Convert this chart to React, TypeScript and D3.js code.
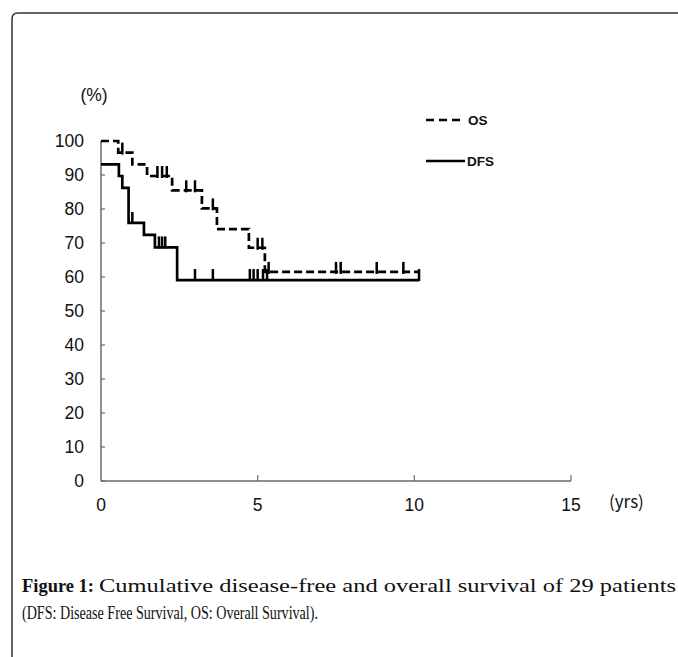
import React from "react";
import * as d3 from "d3";

const yTicks = [0, 10, 20, 30, 40, 50, 60, 70, 80, 90, 100];
const xTicks = [0, 5, 10, 15];

// Overall survival (dashed): step times (yrs) and survival (%) after each step
const osTimes = [0, 0.55, 1.0, 1.47, 2.27, 3.22, 3.7, 4.72, 5.23];
const osSurv = [100, 96.6, 93.1, 89.7, 85.5, 80.2, 74.1, 68.6, 61.5];
const osCensorT = [0.68, 1.8, 1.95, 2.1, 2.72, 3.0, 3.57, 5.0, 5.15, 5.35, 7.5, 7.65, 8.8, 9.65];
const osEnd = 10.15;

// Disease-free survival (solid)
const dfsTimes = [0, 0.57, 0.68, 0.88, 1.37, 1.72, 2.43];
const dfsSurv = [93.1, 89.7, 86.2, 75.9, 72.4, 68.7, 59.1];
const dfsCensorT = [1.0, 1.85, 1.95, 2.05, 3.0, 3.57, 4.75, 4.87, 5.0, 5.17, 5.3, 10.15];
const dfsEnd = 10.15;

const legendLabels = ["OS", "DFS"];
const captionBold = "Figure 1:";
const captionRest = "Cumulative disease-free and overall survival of 29 patients";
const captionLine2 = "(DFS: Disease Free Survival, OS: Overall Survival).";

function levelAt(times: number[], surv: number[], t: number) {
  let v = surv[0];
  for (let i = 0; i < times.length; i++) if (times[i] <= t) v = surv[i];
  return v;
}

export default function App() {
  const x = d3.scaleLinear().domain([0, 15]).range([101, 571]);
  const y = d3.scaleLinear().domain([0, 100]).range([481, 141]);
  const line = d3
    .line<[number, number]>()
    .x((d) => x(d[0]))
    .y((d) => y(d[1]))
    .curve(d3.curveStepAfter);

  const osPts: [number, number][] = osTimes.map((t, i) => [t, osSurv[i]]);
  osPts.push([osEnd, osSurv[osSurv.length - 1]]);
  const dfsPts: [number, number][] = dfsTimes.map((t, i) => [t, dfsSurv[i]]);
  dfsPts.push([dfsEnd, dfsSurv[dfsSurv.length - 1]]);

  const axisColor = "#6a6a6a";
  const sans = "'Liberation Sans', Arial, sans-serif";
  const serif = "'Liberation Serif', 'Times New Roman', serif";

  return (
    <svg width={678} height={657} style={{ position: "absolute", left: 0, top: 0 }}>
      <rect x={0} y={0} width={678} height={657} fill="#fff" />
      {/* frame */}
      <path d="M12,700 L12,19 Q12,13 18,13 L700,13" fill="none" stroke="#333" strokeWidth={1.5} />

      {/* axes */}
      <line x1={x(0)} x2={x(0)} y1={y(0)} y2={y(100)} stroke={axisColor} strokeWidth={1.5} />
      <line x1={x(0)} x2={x(15)} y1={y(0)} y2={y(0)} stroke={axisColor} strokeWidth={1.5} />
      {yTicks.map((v) => (
        <g key={"y" + v}>
          <line x1={x(0)} x2={x(0) + 4} y1={y(v)} y2={y(v)} stroke={axisColor} strokeWidth={1.2} />
          <text x={84} y={y(v)} dy="0.35em" textAnchor="end" fontFamily={sans} fontSize={17.5} fill="#111">
            {v}
          </text>
        </g>
      ))}
      {xTicks.map((v) => (
        <g key={"x" + v}>
          {v > 0 && (
            <line x1={x(v)} x2={x(v)} y1={y(0)} y2={y(0) - 6} stroke={axisColor} strokeWidth={1.2} />
          )}
          <text x={x(v)} y={y(0) + 24} dy="0.35em" textAnchor="middle" fontFamily={sans} fontSize={17.5} fill="#111">
            {v}
          </text>
        </g>
      ))}
      <text x={94} y={95} dy="0.35em" textAnchor="middle" fontFamily={sans} fontSize={17.5} fill="#111">
        (%)
      </text>
      <text x={609} y={502} dy="0.35em" fontFamily="'Noto Sans CJK JP', sans-serif" fontSize={17} fill="#111">
        (yrs)
      </text>

      {/* curves */}
      <path d={line(osPts) || ""} fill="none" stroke="#000" strokeWidth={2.7} strokeDasharray="8,4" />
      <path d={line(dfsPts) || ""} fill="none" stroke="#000" strokeWidth={2.7} />
      {osCensorT.map((t, i) => {
        const v = levelAt(osTimes, osSurv, t);
        return <line key={"oc" + i} x1={x(t)} x2={x(t)} y1={y(v) - 10} y2={y(v) + 2} stroke="#000" strokeWidth={2.5} />;
      })}
      {dfsCensorT.map((t, i) => {
        const v = levelAt(dfsTimes, dfsSurv, t);
        return <line key={"dc" + i} x1={x(t)} x2={x(t)} y1={y(v) - 11} y2={y(v) + 1} stroke="#000" strokeWidth={2.5} />;
      })}

      {/* legend */}
      <line x1={426} x2={461} y1={120} y2={120} stroke="#000" strokeWidth={2.7} strokeDasharray="8,5" />
      <text x={468} y={120} dy="0.35em" fontFamily={sans} fontWeight="bold" fontSize={13.5} fill="#111">
        {legendLabels[0]}
      </text>
      <line x1={426} x2={465} y1={161} y2={161} stroke="#000" strokeWidth={2.7} />
      <text x={467} y={161} dy="0.35em" fontFamily={sans} fontWeight="bold" fontSize={13.5} fill="#111">
        {legendLabels[1]}
      </text>

      {/* caption */}
      <text x={22} y={592} fontFamily={serif} fontSize={18} fontWeight="bold" fill="#111" textLength={72} lengthAdjust="spacingAndGlyphs">
        {captionBold}
      </text>
      <text x={99} y={592} fontFamily={serif} fontSize={18} fill="#111" textLength={577} lengthAdjust="spacingAndGlyphs">
        {captionRest}
      </text>
      <text x={22} y={619} fontFamily={serif} fontSize={18} fill="#111" textLength={296} lengthAdjust="spacingAndGlyphs">
        {captionLine2}
      </text>
    </svg>
  );
}
